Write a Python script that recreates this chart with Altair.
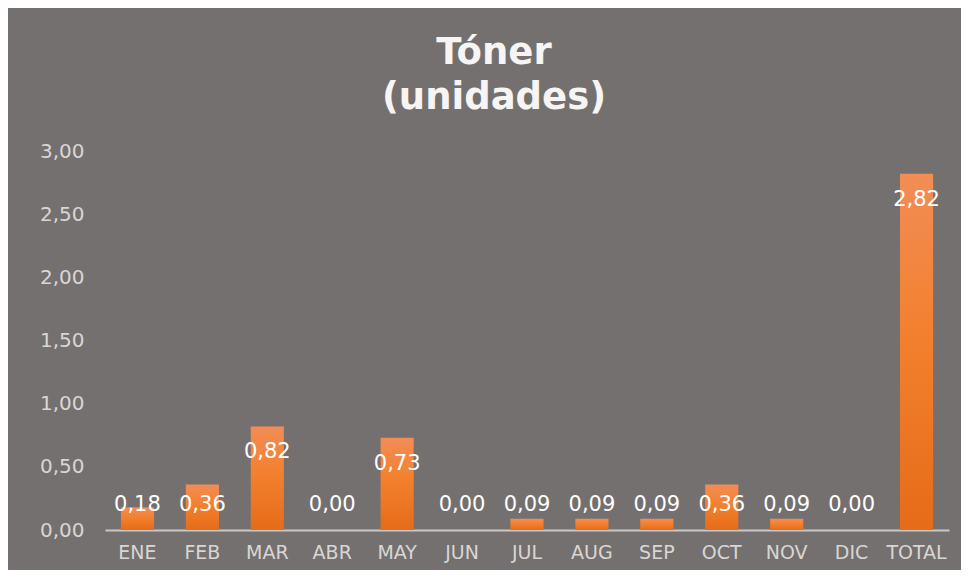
import altair as alt
import pandas as pd

months = ["ENE", "FEB", "MAR", "ABR", "MAY", "JUN", "JUL", "AUG", "SEP", "OCT", "NOV", "DIC", "TOTAL"]
values = [0.18, 0.36, 0.82, 0.00, 0.73, 0.00, 0.09, 0.09, 0.09, 0.36, 0.09, 0.00, 2.82]
y_ticks = [0, 0.5, 1.0, 1.5, 2.0, 2.5, 3.0]

df = pd.DataFrame({"mes": months, "v": values})

BG = "#74706F"
LABEL = "#D9D6D4"
FONT = "DejaVu Sans"

x_enc = alt.X("mes:N", sort=months, title=None,
              scale=alt.Scale(paddingInner=0.49, paddingOuter=0.245),
              axis=alt.Axis(labelAngle=0, ticks=False, domainColor="#C9C6C4", domainWidth=2,
                            labelColor=LABEL, labelFontSize=19, labelFont=FONT,
                            labelPadding=13, grid=False))

grad = alt.Gradient(gradient="linear", x1=0, x2=0, y1=0, y2=1,
                    stops=[alt.GradientStop(color="#F28D56", offset=0),
                           alt.GradientStop(color="#F3802E", offset=0.45),
                           alt.GradientStop(color="#E56C19", offset=1)])

bars = alt.Chart(df).mark_bar(color=grad).encode(
    x=x_enc,
    y=alt.Y("v:Q", title=None,
            scale=alt.Scale(domain=[0, 3], nice=False),
            axis=alt.Axis(values=y_ticks, ticks=False, domain=False, grid=False,
                          labelColor=LABEL, labelFontSize=20, labelFont=FONT,
                          labelPadding=21,
                          labelExpr="replace(format(datum.value, '.2f'), '.', ',')")),
)

labels = alt.Chart(df).transform_calculate(
    pos="max(datum.v, 0.40)",
    txt="replace(format(datum.v, '.2f'), '.', ',')",
).mark_text(color="white", fontSize=21, font=FONT, baseline="middle", dy=26).encode(
    x=alt.X("mes:N", sort=months),
    y=alt.Y("pos:Q"),
    text="txt:N",
)

chart = alt.layer(bars, labels).properties(
    width=844, height=379,
    background=BG,
    padding={"left": 97, "top": 143, "right": 12, "bottom": 40},
    autosize=alt.AutoSizeParams(type="none"),
    title=alt.TitleParams(text=["Tóner", "(unidades)"], font=FONT, fontSize=37,
                          fontWeight="bold", color="#F7F5F4", lineHeight=45,
                          anchor="middle", offset=24, dx=-33),
).configure_view(strokeWidth=0)

chart.save("out.html", embed_options={"renderer": "svg", "actions": False})
